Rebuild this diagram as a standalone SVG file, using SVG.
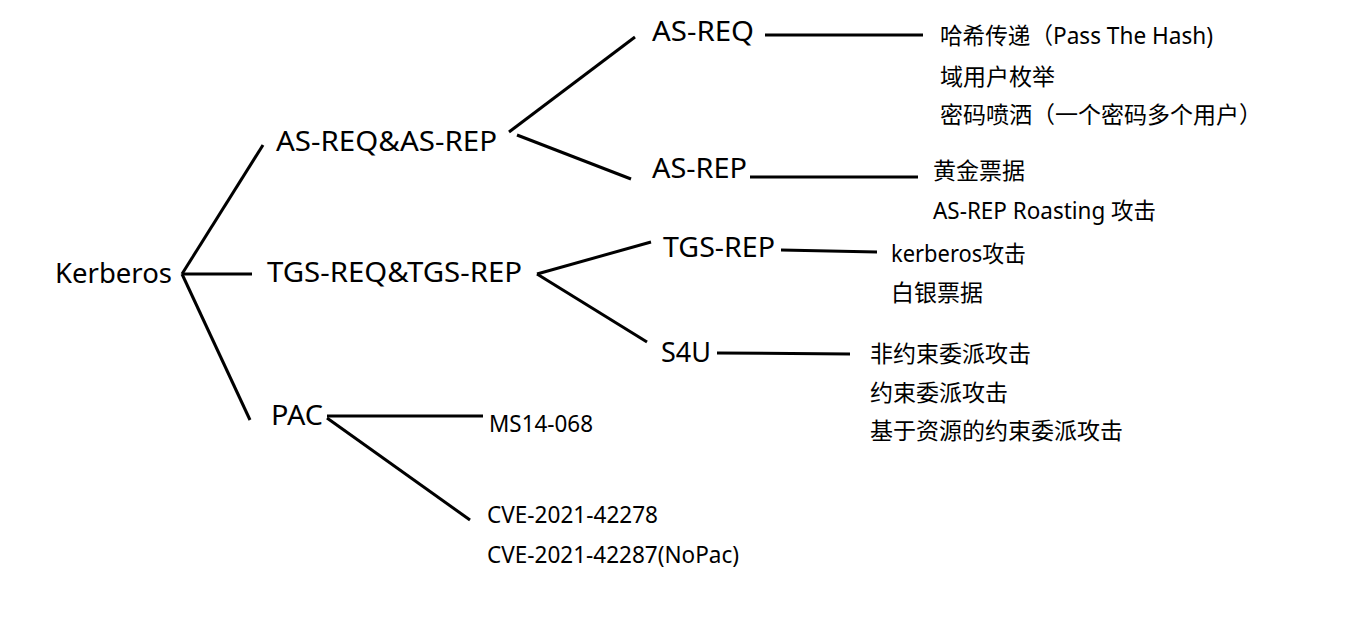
<svg xmlns="http://www.w3.org/2000/svg" width="1350" height="629" viewBox="0 0 1350 629">
<style>
.big{font-family:"Noto Sans","Noto Sans CJK SC",sans-serif;font-size:28px;fill:#000}
.sm{font-family:"Noto Sans","Noto Sans CJK SC",sans-serif;font-size:23px;fill:#000}
.edge{stroke:#000;stroke-width:3;fill:none;stroke-linecap:butt}
</style>
<rect width="1350" height="629" fill="#fff"/>
<g id="connectors">
<line class="edge" x1="182" y1="274" x2="263" y2="145"/>
<line class="edge" x1="182" y1="274" x2="252" y2="274"/>
<line class="edge" x1="182" y1="274" x2="250" y2="420"/>
<line class="edge" x1="509" y1="132" x2="635" y2="37"/>
<line class="edge" x1="517" y1="135" x2="631" y2="179"/>
<line class="edge" x1="765" y1="35" x2="923" y2="35"/>
<line class="edge" x1="750" y1="177" x2="918" y2="177"/>
<line class="edge" x1="537" y1="274" x2="651" y2="242"/>
<line class="edge" x1="537" y1="274" x2="647" y2="342"/>
<line class="edge" x1="781" y1="250" x2="877" y2="252"/>
<line class="edge" x1="717" y1="353" x2="850" y2="354"/>
<line class="edge" x1="327" y1="416" x2="483" y2="416"/>
<line class="edge" x1="327" y1="418" x2="470" y2="520"/>
</g>
<g id="kerberos"><text class="big" x="55" y="283" textLength="117" lengthAdjust="spacingAndGlyphs">Kerberos</text></g>
<g id="as-req-rep"><text class="big" x="276" y="151" textLength="221" lengthAdjust="spacingAndGlyphs">AS-REQ&amp;AS-REP</text></g>
<g id="tgs-req-rep"><text class="big" x="267" y="282" textLength="255" lengthAdjust="spacingAndGlyphs">TGS-REQ&amp;TGS-REP</text></g>
<g id="pac"><text class="big" x="271" y="425" textLength="52" lengthAdjust="spacingAndGlyphs">PAC</text></g>
<g id="as-req"><text class="big" x="652" y="41" textLength="102" lengthAdjust="spacingAndGlyphs">AS-REQ</text></g>
<g id="as-rep"><text class="big" x="652" y="178" textLength="95" lengthAdjust="spacingAndGlyphs">AS-REP</text></g>
<g id="tgs-rep"><text class="big" x="663" y="257" textLength="112" lengthAdjust="spacingAndGlyphs">TGS-REP</text></g>
<g id="s4u"><text class="big" x="661" y="362" textLength="50" lengthAdjust="spacingAndGlyphs">S4U</text></g>
<g id="as-req-attacks">
<text class="sm" x="940" y="44" textLength="273" lengthAdjust="spacingAndGlyphs">哈希传递（Pass The Hash)</text>
<text class="sm" x="940" y="85">域用户枚举</text>
<text class="sm" x="940" y="123">密码喷洒（一个密码多个用户）</text>
</g>
<g id="as-rep-attacks">
<text class="sm" x="933" y="179">黄金票据</text>
<text class="sm" x="933" y="219" textLength="223" lengthAdjust="spacingAndGlyphs">AS-REP Roasting 攻击</text>
</g>
<g id="tgs-rep-attacks">
<text class="sm" x="891" y="262" textLength="135" lengthAdjust="spacingAndGlyphs">kerberos攻击</text>
<text class="sm" x="891" y="301">白银票据</text>
</g>
<g id="s4u-attacks">
<text class="sm" x="870" y="362">非约束委派攻击</text>
<text class="sm" x="870" y="401">约束委派攻击</text>
<text class="sm" x="870" y="439">基于资源的约束委派攻击</text>
</g>
<g id="ms14-068"><text class="sm" x="489" y="432" textLength="104" lengthAdjust="spacingAndGlyphs">MS14-068</text></g>
<g id="cve">
<text class="sm" x="487" y="523" textLength="171" lengthAdjust="spacingAndGlyphs">CVE-2021-42278</text>
<text class="sm" x="487" y="563" textLength="252" lengthAdjust="spacingAndGlyphs">CVE-2021-42287(NoPac)</text>
</g>
</svg>
